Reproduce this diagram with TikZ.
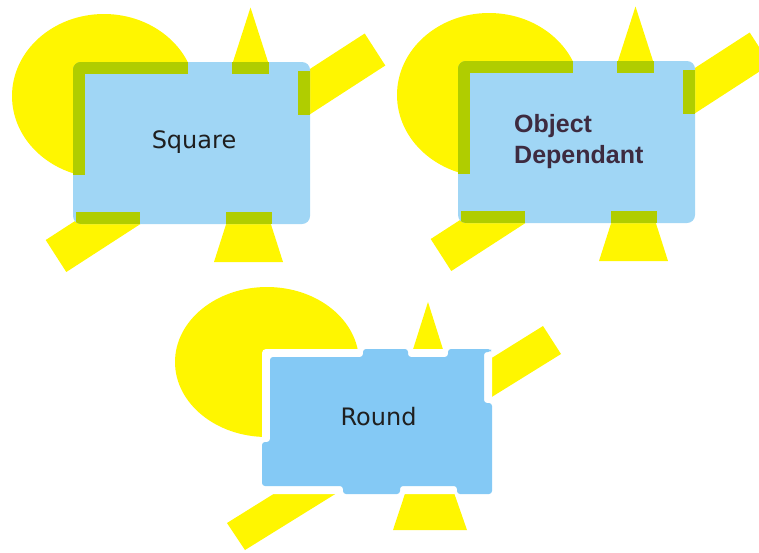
\documentclass[tikz,border=0pt]{standalone}
\usepackage{fontspec}
\usepackage{tikz}
\newfontfamily\plainfont{DejaVu Sans}
\newfontfamily\heavyfont{Liberation Sans}
\definecolor{sunyellow}{RGB}{255,246,0}
\definecolor{boxblue}{RGB}{160,214,245}
\definecolor{roundblue}{RGB}{132,201,245}
\definecolor{wrapgreen}{RGB}{176,205,0}
\definecolor{inkpurple}{RGB}{61,43,64}

\begin{document}
\begin{tikzpicture}[x=1pt,y=-1pt,
    blob/.style={fill=sunyellow},
    frame/.style={fill=boxblue,rounded corners=8},
    band/.style={fill=wrapgreen},
    word/.style={font=\plainfont\fontsize{24}{28}\selectfont,text=black!88,inner sep=0pt}]
  \useasboundingbox (0,0) rectangle (759,552);

  % top row: the same scene twice, wrap band shown in green
  \foreach \dx/\dy in {0/0,385/-1}{
    \begin{scope}[shift={(\dx,\dy)}]
      \fill[blob] (104,96) ellipse (92pt and 82pt);
      \fill[blob] (250.5,7.5) -- (283.5,110) -- (217.5,110) -- cycle;
      \fill[blob] (214,262) -- (283,262) -- (248.5,154) -- cycle;
      \fill[blob] (45.7,240) -- (66.3,272) -- (385.3,65.5) -- (364.7,33.5) -- cycle;
      \fill[frame] (73,62) rectangle (310,224);
      \begin{scope}
        \clip[rounded corners=8] (73,62) rectangle (310,224);
        \fill[band] (73,62) rectangle (188,74);
        \fill[band] (73,62) rectangle (85,175);
        \fill[band] (232,62) rectangle (269,74);
        \fill[band] (298,71) rectangle (310,115);
        \fill[band] (76,212) rectangle (140,224);
        \fill[band] (226,212) rectangle (272,224);
      \end{scope}
    \end{scope}
  }
  \node[word,anchor=base] (square) at (194,148) {Square};
  \node[anchor=north west,align=left,inner sep=0pt,text=inkpurple,
        font=\heavyfont\bfseries\fontsize{25}{31}\selectfont] (objdep) at (514,114) {Object\\Dependant};

  % bottom: round wrap, frame is cut back round the shapes
  \fill[blob] (267,362) ellipse (92pt and 75pt);
  \fill[blob] (428,302) -- (459,400) -- (397,400) -- cycle;
  \fill[blob] (393,530) -- (467,530) -- (429,421) -- cycle;
  \fill[blob] (227,523) -- (245,550) -- (561,354) -- (543,326) -- cycle;
  \fill[white,rounded corners=4] (262,349) rectangle (492,494);
  \fill[roundblue,rounded corners=3] (270,357) -- (363,357) -- (363,349) -- (408,349)
    -- (408,357) -- (448,357) -- (448,349) -- (491,349) -- (491,352) -- (484,352)
    -- (484,403) -- (492,403) -- (492,494) -- (457,494) -- (457,486) -- (400,486)
    -- (400,494) -- (343,494) -- (343,486) -- (262,486) -- (262,442) -- (270,442) -- cycle;
  \node[word,anchor=base] (round) at (378.5,425) {Round};
\end{tikzpicture}
\end{document}
